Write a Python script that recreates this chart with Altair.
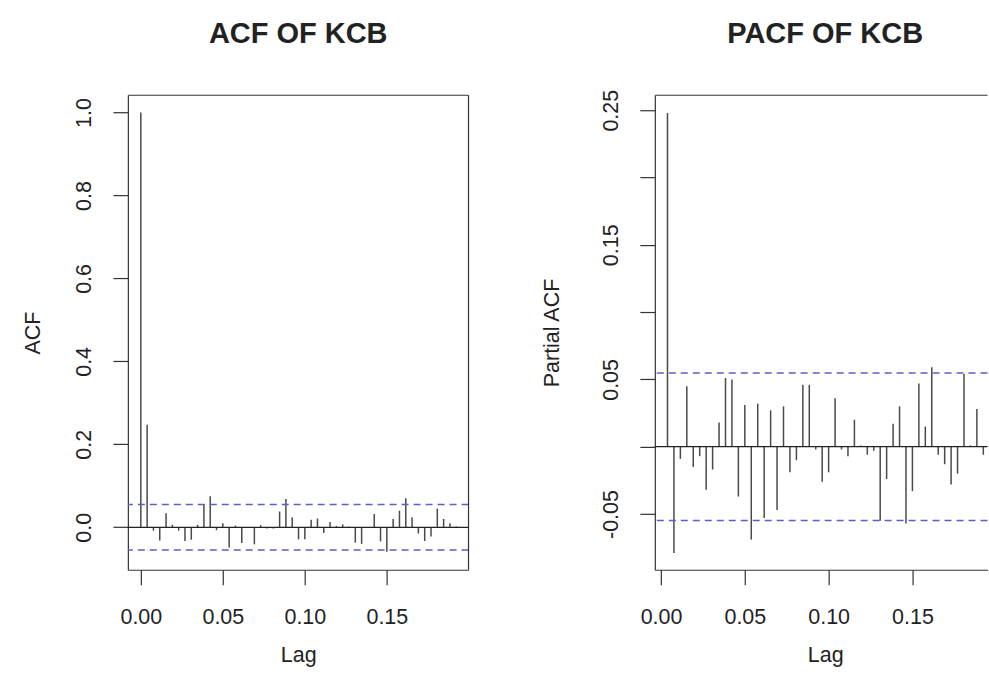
import altair as alt
import pandas as pd

# ---------------- data ----------------
FREQUENCY = 260  # observations per time unit of the series (lag axis is k / frequency)
ACF_LAG_INDEX = list(range(0, 51))
ACF_VALUES = [1.0, 0.247, -0.008, -0.032, 0.034, 0.006, -0.008, -0.033, -0.030, 0.006,
              0.056, 0.075, -0.007, 0.010, -0.049, 0.004, -0.038, -0.002, -0.041, 0.005,
              -0.003, -0.003, 0.038, 0.068, 0.024, -0.029, -0.029, 0.018, 0.021, -0.014,
              0.013, 0.003, 0.007, 0.002, -0.037, -0.040, -0.002, 0.032, -0.034, -0.059,
              0.020, 0.040, 0.070, 0.024, -0.015, -0.033, -0.022, 0.045, 0.020, 0.010, 0.002]

PACF_LAG_INDEX = list(range(1, 51))
PACF_VALUES = [0.248, -0.079, -0.009, 0.045, -0.015, -0.007, -0.032, -0.017, 0.018, 0.051,
               0.050, -0.037, 0.031, -0.069, 0.032, -0.053, 0.027, -0.047, 0.030, -0.019,
               -0.010, 0.046, 0.046, -0.002, -0.026, -0.019, 0.036, -0.002, -0.007, 0.020,
               0.001, -0.006, -0.003, -0.055, -0.024, 0.017, 0.030, -0.057, -0.033, 0.047,
               0.015, 0.059, -0.006, -0.013, -0.028, -0.020, 0.054, 0.001, 0.028, -0.006]

CONF_LIMIT = 0.0548

X_TICKS = [0.0, 0.05, 0.10, 0.15]
ACF_Y_TICKS = [0.0, 0.2, 0.4, 0.6, 0.8, 1.0]
PACF_Y_TICKS = [-0.05, 0.0, 0.05, 0.10, 0.15, 0.20, 0.25]

TITLES = ["ACF OF KCB", "PACF OF KCB"]
Y_TITLES = ["ACF", "Partial ACF"]
X_TITLE = "Lag"

# ---------------- styling ----------------
FONT = "Liberation Sans"
INK = "#222222"
BOX = "#333333"
BAR = "#4a4a4a"
CI_COLOR = "#5e5ec4"
H = 475
FS = 21.5

acf_df = pd.DataFrame({"lag": [k / FREQUENCY for k in ACF_LAG_INDEX], "value": ACF_VALUES})
pacf_df = pd.DataFrame({"lag": [k / FREQUENCY for k in PACF_LAG_INDEX], "value": PACF_VALUES})
ci_df = pd.DataFrame({"value": [CONF_LIMIT, -CONF_LIMIT]})
zero_df = pd.DataFrame({"value": [0.0]})
one = pd.DataFrame({"a": [0]})


def panel(df, title, ytitle, xdom, ydom, yticks, ylabel_expr, width, title_x,
          lag_title_x, ytitle_x, right_border, anchor):
    xscale = alt.Scale(domain=xdom, nice=False, zero=False)
    yscale = alt.Scale(domain=ydom, nice=False, zero=False)
    xaxis = alt.Axis(values=X_TICKS, format=".2f", grid=False, tickSize=15, tickWidth=1.2,
                     tickColor=BOX, domain=True, domainColor=BOX, domainWidth=1.2,
                     labelFont=FONT, labelFontSize=FS, labelColor=INK, labelBaseline="alphabetic",
                     labelPadding=39, labelFlush=False, labelOverlap=False,
                     title=X_TITLE, titleFont=FONT, titleFontSize=FS, titleFontWeight="normal",
                     titleColor=INK, titleBaseline="alphabetic", titleY=92, titleX=lag_title_x,
                     titleAlign="center")
    yaxis = alt.Axis(values=yticks, labelExpr=ylabel_expr, grid=False, tickSize=15, tickWidth=1.2,
                     tickColor=BOX, domain=True, domainColor=BOX, domainWidth=1.2,
                     labelFont=FONT, labelFontSize=FS, labelColor=INK, labelAngle=270,
                     labelAlign="center", labelBaseline="alphabetic", labelPadding=22,
                     labelFlush=False, labelOverlap=False,
                     title=ytitle, titleFont=FONT, titleFontSize=FS, titleFontWeight="normal",
                     titleColor=INK, titleAngle=270, titleAlign="center",
                     titleBaseline="alphabetic", titleX=ytitle_x, titleY=H / 2)

    bars = alt.Chart(df).mark_rule(color=BAR, strokeWidth=1.5).encode(
        x=alt.X("lag:Q", scale=xscale, axis=xaxis),
        y=alt.Y("value:Q", scale=yscale, axis=yaxis),
        y2=alt.datum(0),
    )
    zero = alt.Chart(zero_df).mark_rule(color=INK, strokeWidth=1.3).encode(
        y=alt.Y("value:Q", scale=yscale, axis=yaxis)
    )
    ci = alt.Chart(ci_df).mark_rule(color=CI_COLOR, strokeWidth=1.6, strokeDash=[7, 5]).encode(
        y=alt.Y("value:Q", scale=yscale, axis=yaxis)
    )
    top = alt.Chart(one).mark_rule(color=BOX, strokeWidth=1.2).encode(
        x=alt.value(0), x2=alt.value(width), y=alt.value(0)
    )
    ttl = alt.Chart(one).mark_text(font=FONT, fontSize=29, fontWeight="bold", color=INK,
                                   align="center", baseline="alphabetic").encode(
        x=alt.value(title_x), y=alt.value(-52), text=alt.value(title)
    )
    layers = [bars, ci, zero, top, ttl]
    if right_border:
        layers.append(alt.Chart(one).mark_rule(color=BOX, strokeWidth=1.2).encode(
            x=alt.value(width), y=alt.value(0), y2=alt.value(H)))
    if anchor is not None:
        layers.append(alt.Chart(one).mark_rule(color="white", opacity=0, strokeWidth=0.01).encode(
            x=alt.value(-anchor[0]), x2=alt.value(-anchor[0]),
            y=alt.value(-anchor[1]), y2=alt.value(-anchor[1])))
    return alt.layer(*layers).properties(width=width, height=H)


left = panel(acf_df, TITLES[0], Y_TITLES[0], [-0.0079, 0.1998], [-0.1024, 1.0416],
             ACF_Y_TICKS, "format(datum.value, '.1f')", 341, 170.5, 170.5, -88, True, (128, 95))
right = panel(pacf_df, TITLES[1], Y_TITLES[1], [-0.0037, 0.1948], [-0.0914, 0.2611],
              PACF_Y_TICKS,
              "abs(round(datum.value * 100)) % 10 == 5 ? (datum.value < 0 ? '-' : '') + format(abs(datum.value), '.2f') : ''",
              333, 170.5, 170.5, -96, False, None)

chart = alt.hconcat(left, right, spacing=186.5, bounds="flush", padding=0).configure(
    background="white"
).configure_view(stroke=None)

chart.save("out.html", embed_options={"renderer": "svg", "actions": False})
